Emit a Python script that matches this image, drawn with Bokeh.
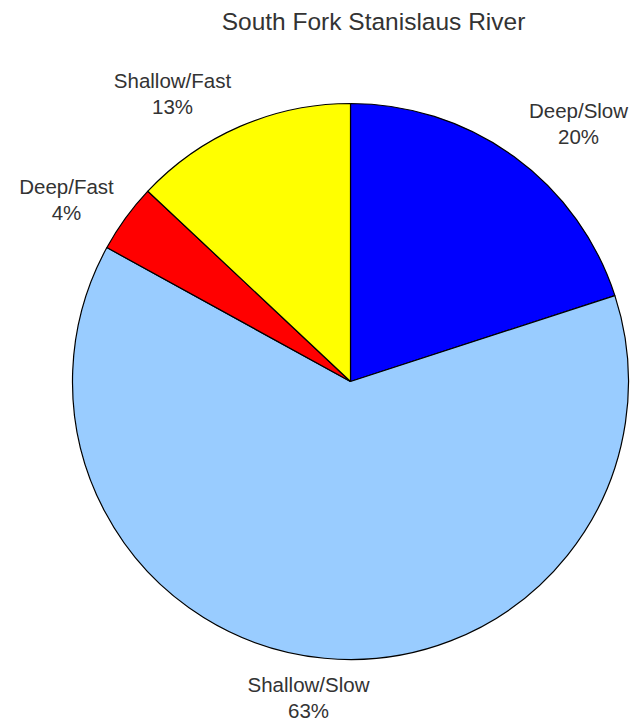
import math
from bokeh.plotting import figure
from bokeh.models import ColumnDataSource, Label, Range1d
from bokeh.embed import file_html
from bokeh.resources import INLINE
from bokeh.core.properties import value

# ---- data ----
categories = ["Deep/Slow", "Shallow/Slow", "Deep/Fast", "Shallow/Fast"]
percents = [20, 63, 4, 13]
colors = ["#0000FF", "#99CCFF", "#FF0000", "#FFFF00"]
title_text = "South Fork Stanislaus River"

# ---- layout (pixel coordinates, y measured from top) ----
W, H = 634, 722
CX, CY, R = 350, 381, 278
label_x = [578, 308, 66, 172]
label_name_y = [110, 684, 186, 80]
LINE_GAP = 26
FONT = "Liberation Sans"
TEXT_COLOR = "#333333"

total = float(sum(percents))
starts, ends = [], []
cum = 0.0
for v in percents:
    starts.append(math.pi / 2 - 2 * math.pi * cum / total)
    cum += v
    ends.append(math.pi / 2 - 2 * math.pi * cum / total)

src = ColumnDataSource(dict(
    x=[CX] * len(categories), y=[H - CY] * len(categories),
    start=starts, end=ends, color=colors, cat=categories,
))

p = figure(width=W, height=H, x_range=Range1d(0, W), y_range=Range1d(0, H),
           output_backend="svg", toolbar_location=None, min_border=0,
           outline_line_color=None, background_fill_color="white",
           border_fill_color="white")
p.axis.visible = False
p.grid.visible = False

p.wedge(x="x", y="y", radius=R, radius_units="screen",
        start_angle="start", end_angle="end", direction="clock",
        fill_color="color", line_color="black", line_width=1.2, source=src)

lab = ColumnDataSource(dict(
    x=label_x,
    yn=[H - y for y in label_name_y],
    yp=[H - y - LINE_GAP for y in label_name_y],
    name=categories,
    pct=[f"{v}%" for v in percents],
))
for col, ycol in (("name", "yn"), ("pct", "yp")):
    p.text(x="x", y=ycol, text=col, source=lab, text_font=value(FONT),
           text_font_size="20.5px", text_align="center", text_baseline="middle",
           text_color=TEXT_COLOR)

p.add_layout(Label(x=373, y=H - 21, text=title_text, text_font=FONT,
                   text_font_size="24.5px", text_align="center",
                   text_baseline="middle", text_color=TEXT_COLOR))

open("out.html", "w").write(file_html(p, INLINE))
